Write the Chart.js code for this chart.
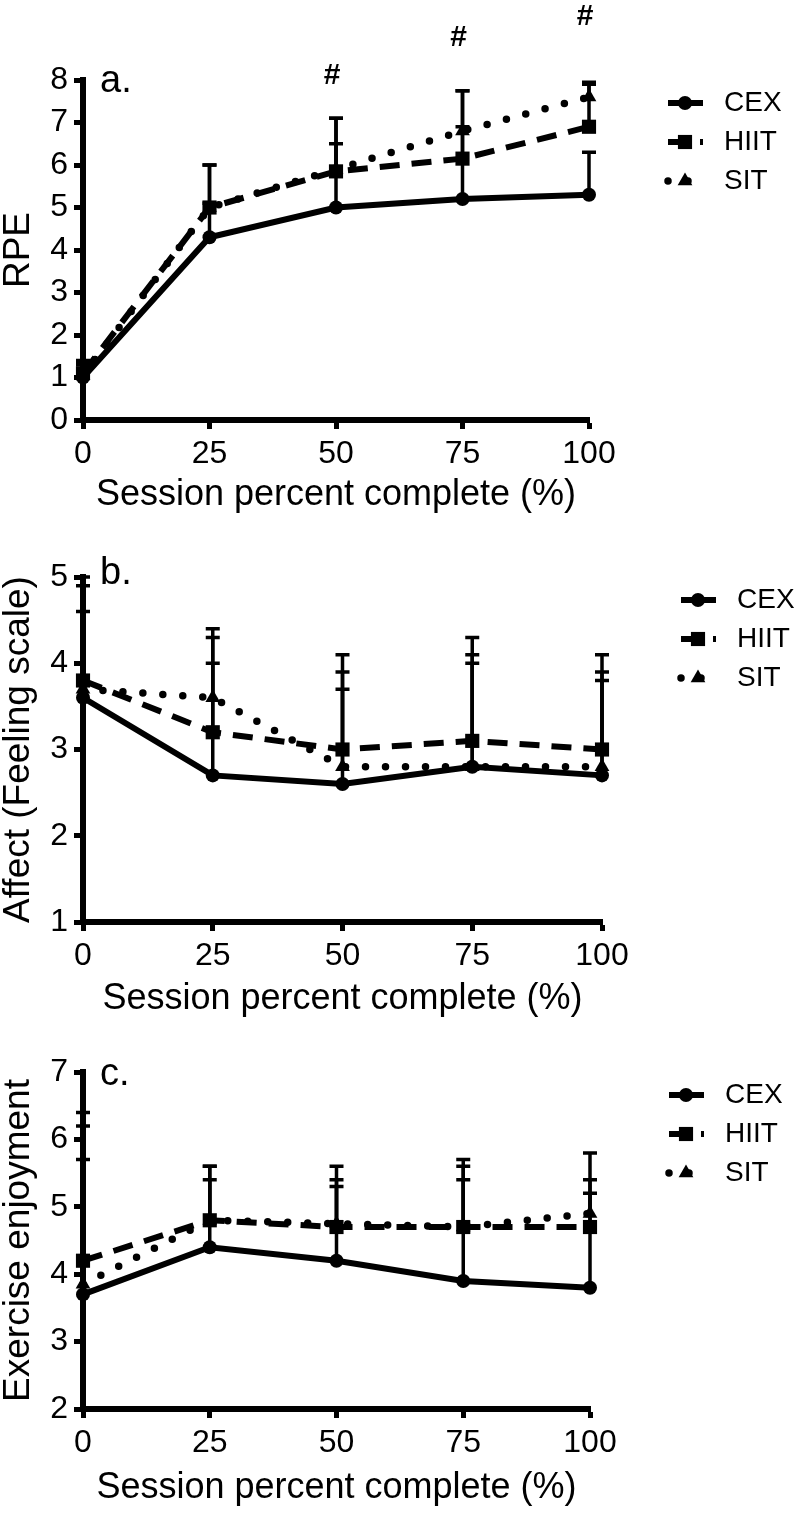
<!DOCTYPE html>
<html>
<head>
<meta charset="utf-8">
<script src="https://cdn.jsdelivr.net/npm/chart.js@4/dist/chart.umd.min.js"></script>
<style>
  html, body { margin: 0; padding: 0; background: #fff; }
  #wrap { position: relative; width: 800px; height: 1513px; background: #fff; }
  canvas { position: absolute; left: 0; }
</style>
</head>
<body>
<div id="wrap">
  <canvas id="rpeChart" width="800" height="513" style="top:0px"></canvas>
  <canvas id="affectChart" width="800" height="504" style="top:513px"></canvas>
  <canvas id="enjoyChart" width="800" height="489" style="top:1017px"></canvas>
</div>
<script>
const sessionPercent = [0, 25, 50, 75, 100];
const groupNames = ['CEX', 'HIIT', 'SIT'];

// a. RPE (mean, upper SD)
const rpeCEX = [1.0, 4.3, 5.0, 5.2, 5.3];
const rpeHIIT = [1.1, 5.0, 5.85, 6.15, 6.9];
const rpeSIT = [1.05, 5.0, 5.9, 6.8, 7.6];
const rpeCEXsd = [0.3, 0.8, 1.5, 1.7, 1.0];
const rpeHIITsd = [0.3, 1.0, 1.25, 1.6, 1.0];
const rpeSITsd = [0.3, 1.0, 1.2, 0.95, 0.35];
const rpeSigX = [50, 75, 100];
const rpeSigY = [8.1, 9.0, 9.5];

// b. Affect (Feeling scale)
const affectCEX = [3.6, 2.7, 2.6, 2.8, 2.7];
const affectHIIT = [3.8, 3.2, 3.0, 3.1, 3.0];
const affectSIT = [3.7, 3.6, 2.8, 2.8, 2.8];
const affectCEXsd = [1.3, 1.3, 1.1, 1.2, 1.1];
const affectHIITsd = [0.8, 1.2, 1.1, 1.2, 1.1];
const affectSITsd = [1.3, 0.7, 1.1, 1.3, 1.1];

// c. Exercise enjoyment
const enjoyCEX = [3.7, 4.4, 4.2, 3.9, 3.8];
const enjoyHIIT = [4.2, 4.8, 4.7, 4.7, 4.7];
const enjoySIT = [3.85, 4.8, 4.75, 4.7, 4.9];
const enjoyCEXsd = [2.0, 1.0, 1.1, 1.5, 1.4];
const enjoyHIITsd = [2.0, 0.8, 0.9, 1.0, 0.7];
const enjoySITsd = [2.55, 0.8, 0.65, 0.9, 0.9];

const FONT = "'Liberation Sans', Arial, sans-serif";

const lineStyles = [
    { borderDash: [], borderCapStyle: 'butt', borderWidth: 6, pointStyle: 'circle', pointRadius: 7 },
    { borderDash: [20, 12], borderCapStyle: 'butt', borderWidth: 6, pointStyle: 'rect', pointRadius: 10 },
    { borderDash: [0, 20], borderCapStyle: 'round', borderWidth: 7.5, pointStyle: 'triangle', pointRadius: 8.5 }
];

function toPoints(values) {
    return sessionPercent.map((x, i) => ({ x: x, y: values[i] }));
}

function makeDatasets(series, sds) {
    return series.map((values, i) => ({
        label: groupNames[i],
        data: toPoints(values),
        sd: sds[i],
        borderColor: '#000',
        backgroundColor: '#000',
        pointBackgroundColor: '#000',
        pointBorderWidth: 0,
        pointHoverRadius: lineStyles[i].pointRadius,
        tension: 0,
        clip: false,
        ...lineStyles[i]
    }));
}

// upward error bars drawn through the y scale
const errorBarPlugin = {
    id: 'errorBars',
    beforeDatasetsDraw(chart) {
        const ctx = chart.ctx;
        const xScale = chart.scales.x;
        const yScale = chart.scales.y;
        ctx.save();
        ctx.strokeStyle = '#000';
        ctx.lineWidth = 3.5;
        ctx.setLineDash([]);
        chart.data.datasets.forEach((ds) => {
            ds.data.forEach((p, j) => {
                const x = xScale.getPixelForValue(p.x);
                const y0 = yScale.getPixelForValue(p.y);
                const y1 = yScale.getPixelForValue(p.y + ds.sd[j]);
                ctx.beginPath();
                ctx.moveTo(x, y0);
                ctx.lineTo(x, y1);
                ctx.moveTo(x - 7, y1);
                ctx.lineTo(x + 7, y1);
                ctx.stroke();
            });
        });
        ctx.restore();
    }
};

// legend with line sample + marker, and panel letters / # marks
const decorPlugin = {
    id: 'decor',
    afterDraw(chart, args, opts) {
        const ctx = chart.ctx;
        const area = chart.chartArea;
        ctx.save();
        ctx.fillStyle = '#000';
        ctx.strokeStyle = '#000';

        const lx = area.right + opts.legendDx;
        chart.data.datasets.forEach((ds, i) => {
            const ly = area.top + opts.legendDy + i * 39;
            ctx.save();
            ctx.lineWidth = ds.borderWidth;
            ctx.lineCap = ds.borderCapStyle;
            ctx.setLineDash(ds.borderDash);
            ctx.beginPath();
            ctx.moveTo(lx, ly);
            ctx.lineTo(lx + 35, ly);
            ctx.stroke();
            ctx.restore();
            Chart.helpers.drawPoint(ctx, {
                pointStyle: ds.pointStyle,
                radius: ds.pointRadius,
                rotation: 0,
                borderWidth: 0
            }, lx + 17, ly);
            ctx.font = '28px ' + FONT;
            ctx.textBaseline = 'middle';
            ctx.textAlign = 'left';
            ctx.fillText(ds.label, lx + 56, ly);
        });

        ctx.font = '38px ' + FONT;
        ctx.textAlign = 'left';
        ctx.textBaseline = 'alphabetic';
        ctx.fillText(opts.panel, area.left + 17, area.top + opts.panelDy);

        if (opts.sigX) {
            ctx.font = 'bold 30px ' + FONT;
            ctx.textAlign = 'center';
            ctx.textBaseline = 'middle';
            opts.sigX.forEach((sx, k) => {
                ctx.fillText('#', chart.scales.x.getPixelForValue(sx) - 4, chart.scales.y.getPixelForValue(opts.sigY[k]));
            });
        }
        ctx.restore();
    }
};

function makeChart(canvasId, cfg) {
    const ctx = document.getElementById(canvasId).getContext('2d');
    return new Chart(ctx, {
        type: 'line',
        data: { datasets: makeDatasets(cfg.series, cfg.sds) },
        plugins: [errorBarPlugin, decorPlugin],
        options: {
            responsive: false,
            animation: false,
            events: [],
            layout: { padding: cfg.padding },
            scales: {
                x: {
                    type: 'linear',
                    min: 0,
                    max: 100,
                    ticks: { stepSize: 25, color: '#000', font: { family: FONT, size: 32 }, padding: 6, maxRotation: 0 },
                    grid: { drawOnChartArea: false, tickLength: 9, tickWidth: 5, tickColor: '#000' },
                    border: { color: '#000', width: 6 },
                    title: {
                        display: true,
                        text: 'Session percent complete (%)',
                        color: '#000',
                        font: { family: FONT, size: 36, lineHeight: 1 },
                        padding: 0
                    },
                    afterFit: (scale) => { scale.height = cfg.xHeight; }
                },
                y: {
                    type: 'linear',
                    min: cfg.yMin,
                    max: cfg.yMax,
                    ticks: { stepSize: 1, color: '#000', font: { family: FONT, size: 32 }, padding: 6 },
                    grid: { drawOnChartArea: false, tickLength: 9, tickWidth: 5, tickColor: '#000' },
                    border: { color: '#000', width: 6 },
                    title: {
                        display: true,
                        text: cfg.yTitle,
                        color: '#000',
                        font: { family: FONT, size: 37, lineHeight: 1 },
                        padding: 0
                    },
                    afterFit: (scale) => { scale.width = 83; }
                }
            },
            plugins: {
                legend: { display: false },
                tooltip: { enabled: false },
                decor: {
                    panel: cfg.panel,
                    panelDy: cfg.panelDy,
                    legendDx: 79,
                    legendDy: 23,
                    sigX: cfg.sigX,
                    sigY: cfg.sigY
                }
            }
        }
    });
}

makeChart('rpeChart', {
    series: [rpeCEX, rpeHIIT, rpeSIT],
    sds: [rpeCEXsd, rpeHIITsd, rpeSITsd],
    yMin: 0, yMax: 8, yTitle: 'RPE',
    padding: { top: 80, right: 211, bottom: 0, left: 0 },
    xHeight: 93,
    panel: 'a.', panelDy: 12,
    sigX: rpeSigX, sigY: rpeSigY
});

makeChart('affectChart', {
    series: [affectCEX, affectHIIT, affectSIT],
    sds: [affectCEXsd, affectHIITsd, affectSITsd],
    yMin: 1, yMax: 5, yTitle: 'Affect (Feeling scale)',
    padding: { top: 64, right: 198, bottom: 0, left: 0 },
    xHeight: 95,
    panel: 'b.', panelDy: 7
});

makeChart('enjoyChart', {
    series: [enjoyCEX, enjoyHIIT, enjoySIT],
    sds: [enjoyCEXsd, enjoyHIITsd, enjoySITsd],
    yMin: 2, yMax: 7, yTitle: 'Exercise enjoyment',
    padding: { top: 55, right: 210, bottom: 0, left: 0 },
    xHeight: 97,
    panel: 'c.', panelDy: 13
});
</script>
</body>
</html>
